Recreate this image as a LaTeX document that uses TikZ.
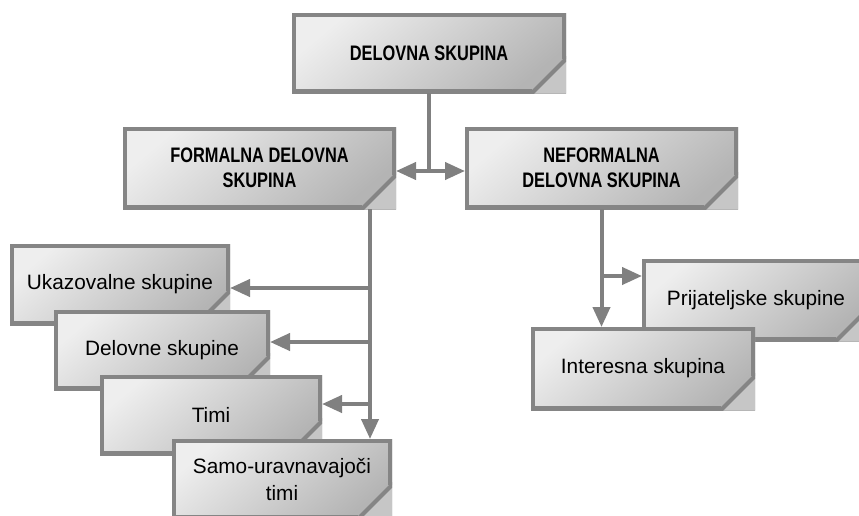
\documentclass[tikz,border=0pt]{standalone}
\usepackage{fontspec}
\setmainfont{Liberation Sans}
\newfontfamily\hdfont[FakeStretch=0.78]{Liberation Sans}
\usetikzlibrary{arrows.meta}
\definecolor{framec}{HTML}{858585}
\definecolor{connc}{HTML}{808080}
\definecolor{boxlight}{HTML}{EEEEEE}
\definecolor{boxdark}{HTML}{B4B4B4}
\definecolor{cornerc}{HTML}{C6C6C6}
\newcommand\hdf{\hdfont\bfseries\fontsize{21}{25}\selectfont}
\newcommand\bdf{\fontsize{20.8}{27}\selectfont}
\newcommand\gbox[7]{\node[cbox, minimum width=#4pt, minimum height=#5pt, font=#7] (#1) at (#2,#3) {#6};}
\begin{document}
\begin{tikzpicture}[x=1pt,y=-1pt,
  cbox/.style={shading=axis, top color=boxlight, bottom color=boxdark, shading angle=40,
    inner sep=0pt, outer sep=0pt, align=center,
    path picture={
      \fill[cornerc] ([xshift=-34pt]path picture bounding box.south east) -- ([yshift=34pt]path picture bounding box.south east) -- (path picture bounding box.south east) -- cycle;
      \draw[framec, line width=8pt, line join=miter] ([xshift=-34pt]path picture bounding box.south east) -- (path picture bounding box.south west) -- (path picture bounding box.north west) -- (path picture bounding box.north east) -- ([yshift=34pt]path picture bounding box.south east);
      \draw[framec, line width=4pt] ([xshift=-35.5pt,yshift=-1.5pt]path picture bounding box.south east) -- ([xshift=1.5pt,yshift=35.5pt]path picture bounding box.south east);
    }},
  conn/.style={draw=connc, line width=4pt, -{Triangle[length=20pt,width=17pt]}},
  plain/.style={draw=connc, line width=4pt}]
\useasboundingbox (0,0) rectangle (859,515);
\clip (0,0) rectangle (859,515);
\fill[white] (0,0) rectangle (859,515);

% boxes
\gbox{top}{429}{53}{274}{80}{DELOVNA SKUPINA}{\hdf}
\gbox{formal}{259.5}{168}{273}{82}{FORMALNA DELOVNA\\SKUPINA}{\hdf}
\gbox{neformal}{601.5}{168}{273}{82}{NEFORMALNA\\DELOVNA SKUPINA}{\hdf}
\gbox{ukaz}{120}{284.5}{220}{81}{Ukazovalne skupine}{\bdf}
\gbox{delovne}{162}{350}{216}{80}{Delovne skupine}{\bdf}
\gbox{timi}{211}{415}{222}{80}{Timi}{\bdf}
\gbox{samo}{282}{479}{220}{80}{Samo-uravnavajoči\\timi}{\bdf}
\gbox{prij}{756}{300}{228}{82}{Prijateljske skupine}{\bdf}
\gbox{inter}{643}{368.5}{224}{83}{Interesna skupina}{\bdf}

% connectors: top to the two groups
\coordinate (j) at (429,171);
\draw[plain] (top.south) -- (j);
\draw[conn] (j) -- (j -| formal.east);
\draw[conn] (j) -- (j -| neformal.west);

% formal branch
\coordinate (ftrunk) at (370,209);
\draw[conn] (ftrunk) -- (ftrunk |- samo.north);
\draw[conn] ([yshift=-3.5pt]ukaz.east -| ftrunk) -- ([yshift=-3.5pt]ukaz.east);
\draw[conn] ([yshift=8pt]delovne.east -| ftrunk) -- ([yshift=8pt]delovne.east);
\draw[conn] ([yshift=11pt]timi.east -| ftrunk) -- ([yshift=11pt]timi.east);

% informal branch
\draw[conn] (neformal.south) -- (neformal.south |- inter.north);
\draw[conn] ([yshift=24pt]prij.west -| neformal.south) -- ([yshift=24pt]prij.west);
\end{tikzpicture}
\end{document}
